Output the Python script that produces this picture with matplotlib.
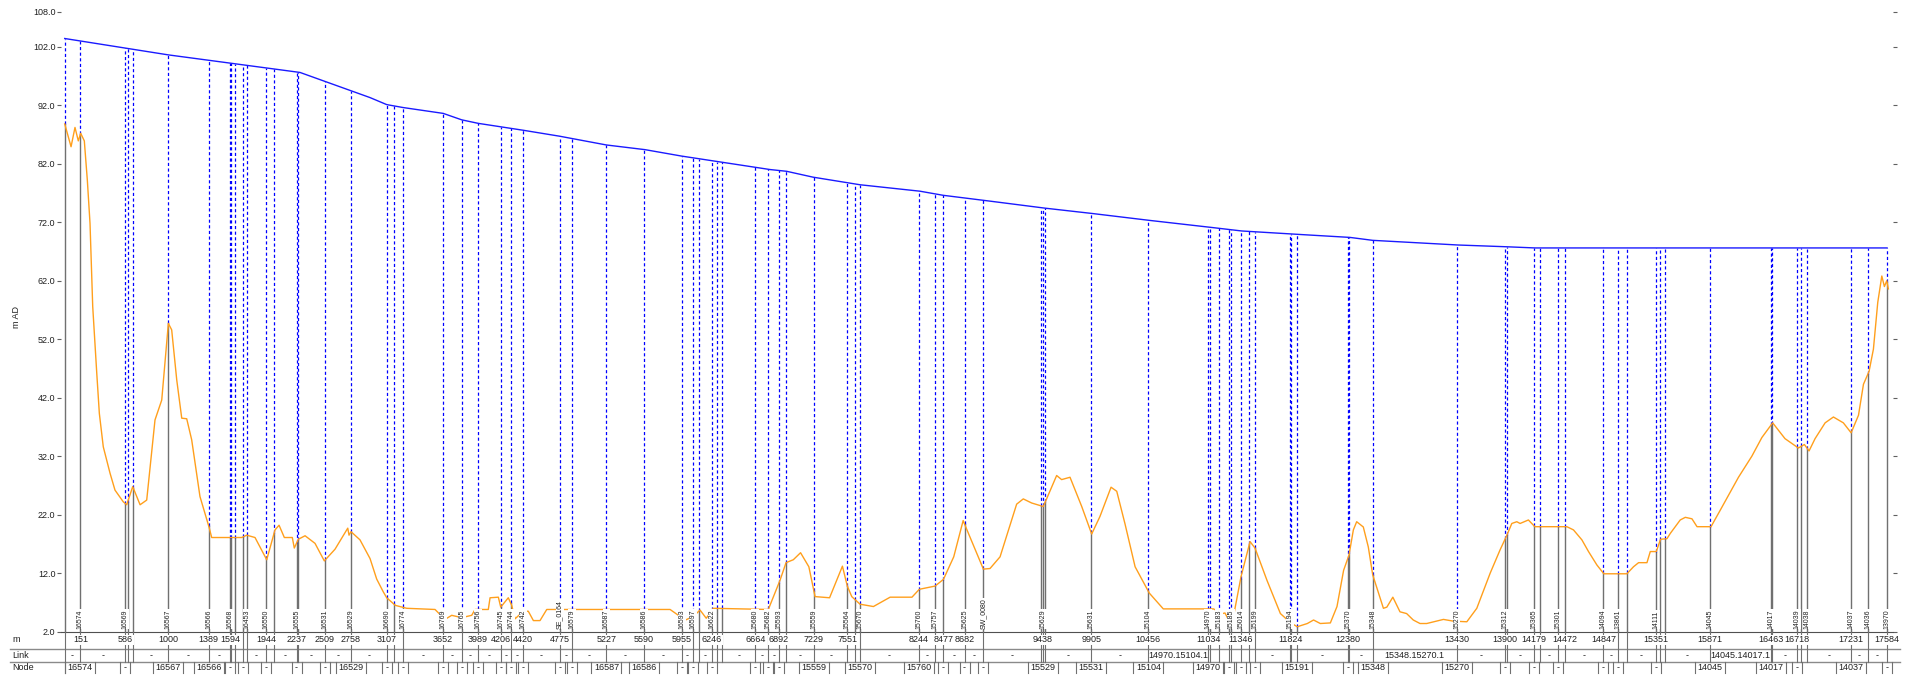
import numpy as np
import matplotlib
matplotlib.use("Agg")
import matplotlib.pyplot as plt
from matplotlib.lines import Line2D
from matplotlib.transforms import blended_transform_factory

plt.rcParams['font.family'] = ['Liberation Sans', 'DejaVu Sans']

# ground (cover) level along the route, m AD
ground_ch = [0, 1000, 2270, 2946, 3107, 3265, 3652, 3830, 3989, 4430, 4775, 5227, 5600,
             5953, 6806, 6966, 7220, 7674, 8252, 8475, 8928, 9459, 9909, 10472, 11067,
             11357, 11920, 12401, 12620, 13446, 13913, 14187, 17584]
ground_lv = [103.4, 100.6, 97.6, 93.3, 92.1, 91.6, 90.6, 89.5, 88.9, 87.7, 86.7, 85.2, 84.4,
             83.3, 81.0, 80.7, 79.7, 78.4, 77.3, 76.6, 75.6, 74.4, 73.5, 72.3, 71.1,
             70.5, 69.9, 69.4, 68.9, 68.1, 67.8, 67.6, 67.6]

# orange profile
prof_ch = [0, 61, 99, 131, 154, 189, 218, 244, 270, 309, 334, 372, 405, 437, 485, 565, 598,
           656, 727, 791, 871, 936, 1000, 1032, 1081, 1129, 1177, 1225, 1305, 1392, 1418,
           1708, 1756, 1836, 1949, 2029, 2068, 2119, 2196, 2215, 2254, 2319, 2415, 2505,
           2608, 2731, 2743, 2762, 2849, 2946, 3010, 3074, 3107, 3190, 3300, 3573, 3669,
           3734, 3830, 3927, 3959, 4087, 4104, 4184, 4207, 4280, 4313, 4345, 4425, 4473,
           4522, 4586, 4651, 5841, 5937, 5990, 6065, 6130, 6190, 6258, 6789, 6902, 6960,
           7030, 7100, 7180, 7240, 7380, 7504, 7551, 7594, 7674, 7803, 7964, 8175, 8246,
           8398, 8479, 8578, 8669, 8694, 8760, 8864, 8928, 9025, 9089, 9185, 9249, 9330,
           9442, 9474, 9571, 9619, 9700, 9813, 9909, 9989, 10096, 10151, 10231, 10328,
           10465, 10600, 11083, 11120, 11147, 11195, 11260, 11350, 11437, 11485, 11600,
           11730, 11830, 11893, 11990, 12050, 12115, 12212, 12276, 12340, 12392, 12434,
           12466, 12530, 12578, 12621, 12724, 12757, 12815, 12884, 12948, 13012, 13077,
           13142, 13303, 13400, 13529, 13625, 13754, 13850, 13908, 13963, 14011, 14043,
           14123, 14185, 14494, 14558, 14639, 14703, 14784, 14851, 15073, 15137, 15186,
           15267, 15299, 15357, 15398, 15460, 15492, 15588, 15637, 15701, 15750, 15885,
           15975, 16150, 16279, 16376, 16480, 16599, 16728, 16786, 16831, 16889, 16986,
           17066, 17162, 17237, 17308, 17356, 17410, 17452, 17494, 17533, 17558, 17581,
           17596]
prof_lv = [88.8, 84.9, 88.2, 85.9, 87.2, 85.9, 79.2, 71.8, 57.6, 46.2, 39.3, 33.6, 31.3, 29.1,
           26.2, 24.2, 23.7, 26.8, 23.7, 24.5, 38.2, 41.6, 54.7, 53.6, 45.0, 38.5, 38.4, 34.8,
           25.1, 19.9, 18.1, 18.1, 18.5, 18.1, 14.3, 19.4, 20.2, 18.1, 18.1, 16.3, 17.8,
           18.4, 17.1, 14.1, 16.1, 19.7, 18.5, 19.1, 17.7, 14.5, 11.0, 8.8, 7.8, 6.5, 6.0,
           5.8, 4.1, 4.8, 4.4, 4.8, 5.8, 5.8, 7.8, 7.9, 6.2, 7.8, 6.5, 4.2, 5.5, 5.5, 3.9,
           3.9, 5.8, 5.8, 4.6, 4.0, 4.6, 5.7, 4.3, 6.0, 5.8, 10.8, 13.8, 14.3, 15.5, 13.1,
           8.0, 7.8, 13.2, 9.8, 8.0, 6.7, 6.3, 7.9, 7.9, 9.25, 9.8, 10.95, 14.8, 21.0, 19.9,
           17.1, 12.7, 12.8, 14.8, 18.4, 23.8, 24.7, 24.0, 23.4, 24.7, 28.7, 28.0, 28.4,
           23.4, 18.7, 21.7, 26.7, 26.0, 20.4, 13.1, 8.6, 5.9, 5.9, 5.6, 5.0, 5.2, 3.0,
           11.4, 17.4, 16.3, 10.8, 5.1, 3.5, 2.85, 3.4, 4.0, 3.4, 3.5, 6.3, 12.5, 15.1,
           19.4, 20.8, 19.9, 16.5, 11.7, 6.0, 6.2, 7.9, 5.4, 5.1, 4.0, 3.4, 3.4, 4.1, 3.8,
           3.7, 6.0, 12.0, 16.0, 18.2, 20.5, 20.8, 20.5, 21.1, 19.95, 19.95, 19.4, 17.7,
           15.7, 13.4, 11.9, 11.9, 13.1, 13.8, 13.8, 15.7, 15.7, 17.8, 17.9, 18.8, 21.1,
           21.55, 21.3, 19.95, 19.95, 22.8, 28.4, 32.0, 35.2, 37.7, 35.0, 33.4, 34.0, 32.9,
           35.0, 37.7, 38.7, 37.7, 36.0, 39.0, 44.3, 46.5, 50.3, 58.3, 62.8, 61.0, 62.0,
           60.6]

# nodes (chainage m) and their vertical labels
node_ch = [0, 151, 586, 607, 662, 1000, 1389, 1594, 1606, 1646, 1722, 1756, 1944, 2020, 2237,
           2251, 2509, 2758, 3107, 3174, 3267, 3652, 3830, 3989, 4206, 4304, 4420, 4775,
           4895, 5227, 5590, 5955, 6060, 6117, 6246, 6296, 6342, 6664, 6789, 6892, 6960,
           7229, 7551, 7628, 7674, 8244, 8398, 8477, 8682, 8864, 9420, 9438, 9460, 9905,
           10456, 11034, 11050, 11140, 11235, 11251, 11346, 11430, 11485, 11824, 11835,
           11893, 12380, 12395, 12621, 13430, 13900, 13915, 14179, 14235, 14412, 14472,
           14847, 14990, 15078, 15351, 15396, 15441, 15871, 16463, 16475, 16718, 16754,
           16814, 17231, 17397, 17584]
node_lbl = ['', '16574', '16569', '', '', '16567', '16566', '16568', '', '', '', '16453',
            '16550', '', '16555', '', '16531', '16529', '16690', '', '16774', '16769',
            '16765', '16756', '16745', '16744', '16742', 'SE_0164', '16579', '16587',
            '16586', '16593', '16597', '', '16622', '', '', '15680', '15682', '15593', '',
            '15559', '15564', '', '15670', '15760', '15757', '', '15625', 'SW_0080', '',
            '15629', '', '15631', '15104', '14970', '', '15183', '', '15185', '15014', '',
            '15199', '15194', '', '', '15370', '', '15348', '15270', '15312', '', '15365',
            '', '15301', '', '14094', '13861', '', '14111', '', '', '14045', '14017', '',
            '14039', '', '14038', '14037', '14036', '13970']

# chainage labels on the "m" row
m_ticks = [151, 586, 1000, 1389, 1594, 1944, 2237, 2509, 2758, 3107, 3652, 3989, 4206, 4420,
           4775, 5227, 5590, 5955, 6246, 6664, 6892, 7229, 7551, 8244, 8477, 8682, 9438,
           9905, 10456, 11034, 11346, 11824, 12380, 13430, 13900, 14179, 14472, 14847,
           15351, 15871, 16463, 16718, 17231, 17584]

# "Link" row ids
link_from = [10456, 12621, 15871]
link_to = [11034, 13430, 16463]
link_id = ['14970.15104.1', '15348.15270.1', '14045.14017.1']

# "Node" row ids
row_node_ch = [151, 1000, 1389, 2758, 5227, 5590, 7229, 7674, 8244, 9438, 9905, 10456, 11034,
               11893, 12621, 13430, 15871, 16463, 17231]
row_node_id = ['16574', '16567', '16566', '16529', '16587', '16586', '15559', '15570',
               '15760', '15529', '15531', '15104', '14970', '15191', '15348', '15270',
               '14045', '14017', '14037']

W, H = 1924, 678
fig = plt.figure(figsize=(W / 100, H / 100), dpi=100)
fig.patch.set_facecolor('white')

left_px, right_px, top_px, bot_px = 61, 1893, 11.6, 631.7
ax = fig.add_axes([left_px / W, 1 - bot_px / H, (right_px - left_px) / W, (bot_px - top_px) / H])
x_lo, x_hi = -36, 17641
ax.set_xlim(x_lo, x_hi)
ax.set_ylim(2, 108)
mpp = (x_hi - x_lo) / (right_px - left_px)  # metres per pixel

for s in ['left', 'right', 'top']:
    ax.spines[s].set_visible(False)
ax.spines['bottom'].set_color('#505050')
ax.set_xticks([])
yt = [2, 12, 22, 32, 42, 52, 62, 72, 82, 92, 102, 108]
ax.set_yticks(yt)
ax.set_yticklabels([f'{v:.1f}' for v in yt])
ax.tick_params(axis='y', direction='out', length=3, width=0.8, color='#606060',
               labelsize=6.5, labelcolor='#202020', pad=1, right=True)
fig.text(16.7 / W, 1 - 316.7 / H, 'm AD', rotation=90, ha='center', va='center',
         fontsize=6.5, color='#202020')

nch = np.array(node_ch, dtype=float)
inv = np.interp(nch, prof_ch, prof_lv)
gl = np.interp(nch, ground_ch, ground_lv)
for c, lo, hi in zip(nch, inv, gl):
    ax.plot([c, c], [2, lo], color='#707070', lw=1, zorder=2)
    ax.plot([c, c], [lo, hi], color='#0000ff', lw=0.9, ls=(0, (2.5, 2)), zorder=2)

ax.plot(prof_ch, prof_lv, color='#ff9f1c', lw=1, zorder=3)
ax.plot(ground_ch, ground_lv, color='#1a1aff', lw=1, zorder=3)

for c, lb in zip(nch, node_lbl):
    if lb:
        ax.text(c, 2.45, lb, rotation=90, ha='center', va='bottom', fontsize=5,
                color='#202020', zorder=4,
                bbox=dict(facecolor='white', edgecolor='none', pad=0.3))

# table below the plot
tr = blended_transform_factory(ax.transData, fig.transFigure)


def fy(p):
    return 1 - p / H


for yy in (649.3, 661.7):
    fig.add_artist(Line2D([10 / W, 1900 / W], [fy(yy)] * 2, color='#8a8a8a', lw=1))

for c in nch:
    fig.add_artist(Line2D([c, c], [fy(631.7), fy(661.7)], transform=tr, color='#707070', lw=0.8))

fs = 6.5
for c in m_ticks:
    fig.text(c, fy(640), str(c), transform=tr, ha='center', va='center', fontsize=fs,
             color='#202020', bbox=dict(facecolor='white', edgecolor='none', pad=0.4))

for lbl, yy in (('m', 640), ('Link', 655.5), ('Node', 667.5)):
    fig.text(12 / W, fy(yy), lbl, ha='left', va='center', fontsize=fs, color='#202020')

# link row
id_segs = set(zip(link_from, link_to))
for a, b in zip(nch[:-1], nch[1:]):
    if (b - a) / mpp < 10 or (int(a), int(b)) in id_segs:
        continue
    fig.text((a + b) / 2, fy(655.5), '-', transform=tr, ha='center', va='center',
             fontsize=fs, color='#202020')
for a, b, lid in zip(link_from, link_to, link_id):
    fig.text((a + b) / 2, fy(655.5), lid, transform=tr, ha='center', va='center',
             fontsize=fs, color='#202020')

# node row
cells = []
for c, nid in zip(row_node_ch, row_node_id):
    cells.append((c - 15 * mpp, c + 15 * mpp, nid, c))
for c in nch:
    half = 5 * mpp
    if any(not (c + half < lo or c - half > hi) for lo, hi, _, _ in cells):
        continue
    cells.append((c - half, c + half, '-', c))
for lo, hi, t, c in cells:
    fig.text(c, fy(667.5), t, transform=tr, ha='center', va='center', fontsize=fs,
             color='#202020')
    for e in (lo, hi):
        fig.add_artist(Line2D([e, e], [fy(661.7), fy(673)], transform=tr, color='#707070', lw=0.8))
fig.add_artist(Line2D([nch[0], nch[0]], [fy(661.7), fy(673)], transform=tr, color='#707070', lw=0.8))

fig.savefig('out.png', dpi=100, facecolor='white')
